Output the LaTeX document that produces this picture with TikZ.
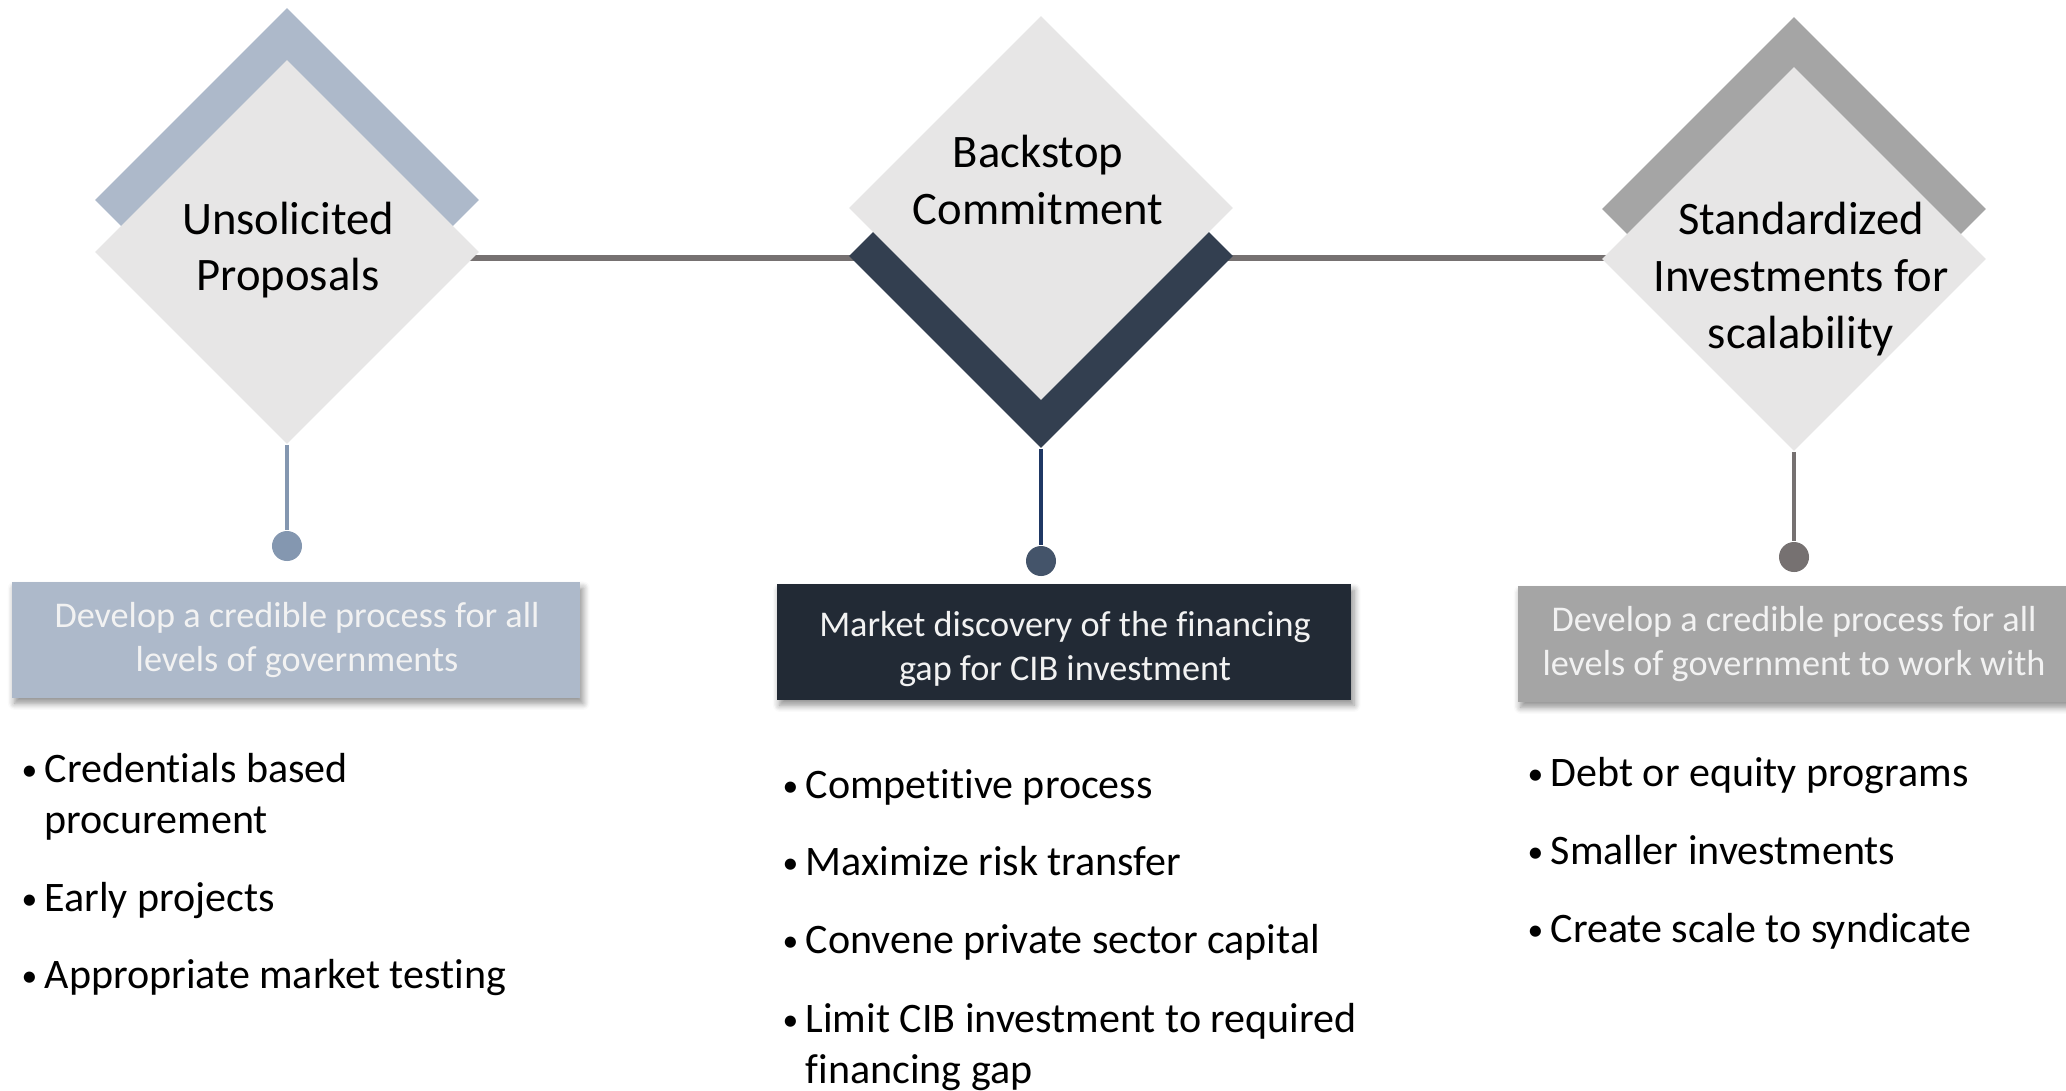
\documentclass[tikz,border=0pt]{standalone}
\usepackage{fontspec}
\usepackage{graphicx}
\setmainfont{Carlito}[Ligatures=NoCommon]
\usetikzlibrary{shapes.geometric,shadows.blur}

\definecolor{frontgray}{HTML}{E7E6E6}
\definecolor{steelblue}{HTML}{ADB9CA}
\definecolor{steeldark}{HTML}{8497B0}
\definecolor{navy}{HTML}{333F50}
\definecolor{navyline}{HTML}{1F3864}
\definecolor{navydot}{HTML}{44546A}
\definecolor{navybox}{HTML}{222A35}
\definecolor{midgray}{HTML}{A5A5A5}
\definecolor{linegray}{HTML}{767171}
\definecolor{boxtext}{HTML}{F2F2F2}

\tikzset{
  tile/.style={diamond, minimum width=3.84cm, minimum height=3.84cm, inner sep=0pt, fill=#1},
  heading/.style={align=center, font=\fontsize{13.25pt}{16.1pt}\selectfont},
  stem/.style={draw=#1, line width=1.4pt},
  knob/.style={circle, fill=#1, minimum size=0.3cm, inner sep=0pt},
  goalbox/.style={fill=#1, minimum height=1.15cm, inner sep=0pt,
    blur shadow={shadow xshift=0.8pt, shadow yshift=-1.6pt, shadow blur steps=6, shadow opacity=45}},
  goaltext/.style={align=center, text=boxtext, inner sep=0pt, font=\fontsize{10.3pt}{12.5pt}\selectfont},
  bullettext/.style={anchor=base west, align=left, inner sep=0pt, font=\fontsize{11.95pt}{14.5pt}\selectfont},
}
\newcommand{\bul}{\llap{\makebox[0.23cm][l]{\raisebox{0.5pt}{\scalebox{0.75}{\textbullet}}}}}

\begin{document}
\begin{tikzpicture}[x=0.01cm, y=-0.01cm]
\useasboundingbox (0,0) rectangle (2066,1090);

% timeline behind the tiles
\coordinate (lineL) at (287,258);
\coordinate (lineR) at (1794,258);
\draw[linegray, line width=1.5pt] (lineL) -- (lineR);

% tiles: back one first, then the light one
\node[tile=steelblue] (ub) at (287,200) {};
\node[tile=frontgray] (uf) at (287,252) {};
\node[tile=navy] (bb) at (1041,256) {};
\node[tile=frontgray] (bf) at (1041,208) {};
\node[tile=midgray] (sb) at (1794,209) {};
\node[tile=frontgray] (sf) at (1794,259) {};

\node[heading] (ut) at (288,250) {Unsolicited\\Proposals};
\node[heading] (bt) at (1038,180) {Backstop\\Commitment};
\node[heading] (st) at (1801,279) {Standardized\\Investments for\\scalability};

% stems and knobs
\node[knob=steeldark] (uk) at (287,546) {};
\node[knob=navydot] (bk) at (1041,561) {};
\node[knob=linegray] (sk) at (1794,557) {};
\draw[stem=steeldark] (uf.south) -- (uk);
\draw[stem=navyline] (bb.south) -- (bk);
\draw[stem=linegray] (sf.south) -- (sk);

% goal boxes
\node[goalbox=steelblue, minimum width=5.68cm] (ubox) at (296,640) {};
\node[goalbox=navybox, minimum width=5.74cm] (bbox) at (1064,642) {};
\node[goalbox=midgray, minimum width=5.52cm] (sbox) at (1794,644) {};
\node[goaltext] (uboxt) at (297,640) {Develop a credible process for all\\levels of governments};
\node[goaltext] (bboxt) at (1065,649) {Market discovery of the financing\\gap for CIB investment};
\node[goaltext] (sboxt) at (1794,644) {Develop a credible process for all\\levels of government to work with};

% bullet points
\node[bullettext] (u1) at (44,833) {\bul Credentials based\\procurement};
\node[bullettext] (u2) at (44,911) {\bul Early projects};
\node[bullettext] (u3) at (44,988) {\bul Appropriate market testing};

\node[bullettext] (b1) at (805,798) {\bul Competitive process};
\node[bullettext] (b2) at (805,875) {\bul Maximize risk transfer};
\node[bullettext] (b3) at (805,953) {\bul Convene private sector capital};
\node[bullettext] (b4) at (805,1083) {\bul Limit CIB investment to required\\financing gap};

\node[bullettext] (s1) at (1550,786) {\bul Debt or equity programs};
\node[bullettext] (s2) at (1550,864) {\bul Smaller investments};
\node[bullettext] (s3) at (1550,942) {\bul Create scale to syndicate};
\end{tikzpicture}
\end{document}
